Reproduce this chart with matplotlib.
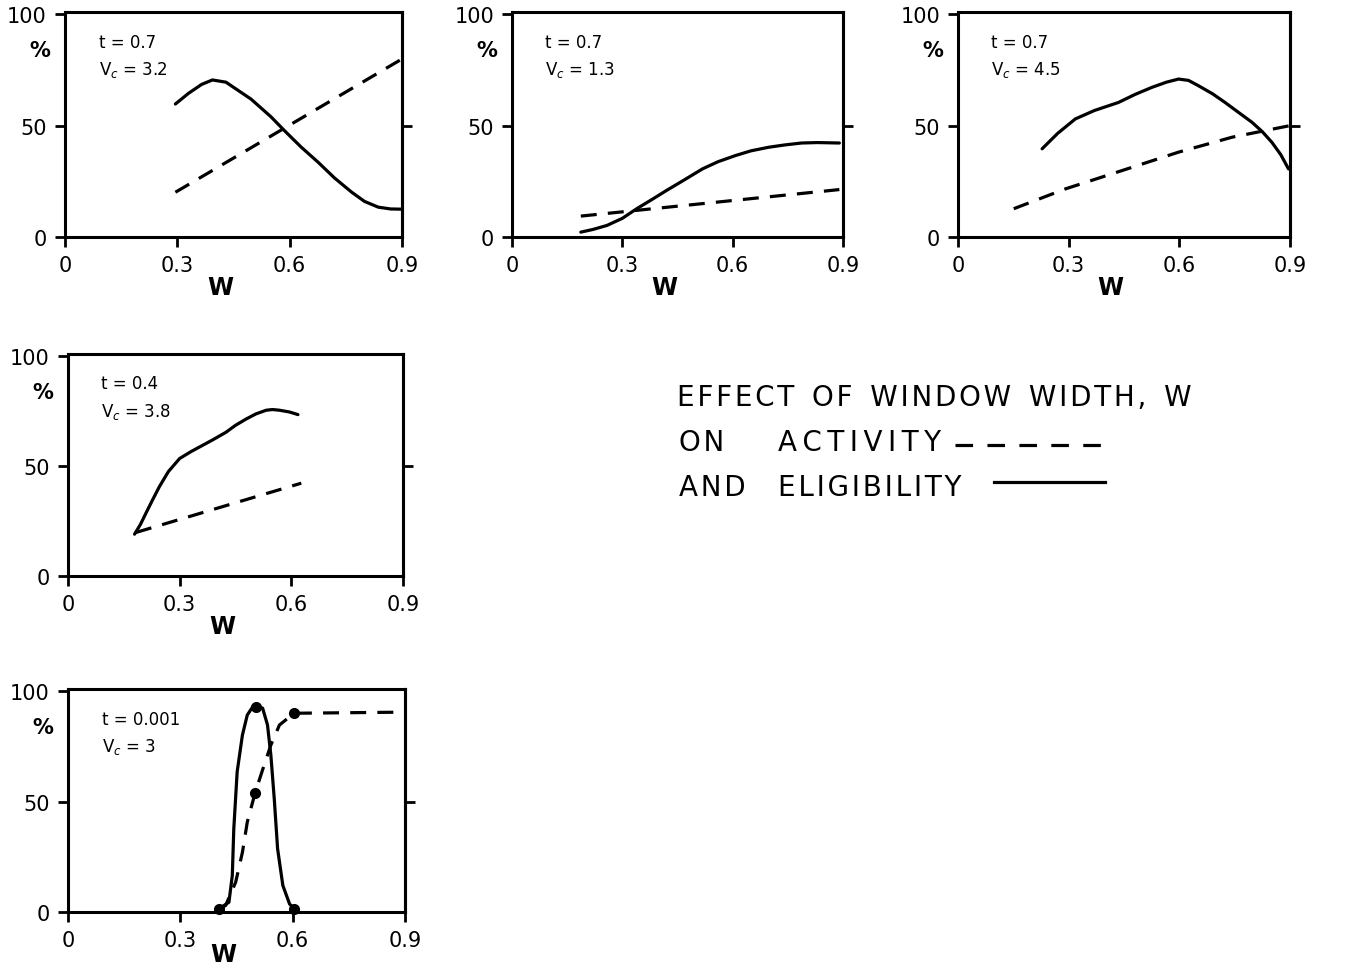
import matplotlib
matplotlib.use("Agg")
import matplotlib.pyplot as plt
from matplotlib.lines import Line2D

# panel 1: t = 0.7, Vc = 3.2
p1_w_elig = [0.295, 0.33, 0.365, 0.394, 0.43, 0.497, 0.55, 0.586, 0.63, 0.676, 0.72, 0.766, 0.80, 0.837, 0.87, 0.9]
p1_elig = [59.7, 64.5, 68.5, 70.5, 69.5, 61.9, 54.0, 47.8, 40.5, 33.6, 26.5, 20.1, 16.0, 13.4, 12.6, 12.5]
p1_w_act = [0.295, 0.9]
p1_act = [20.1, 79.9]

# panel 2: t = 0.7, Vc = 1.3
p2_w_elig = [0.187, 0.22, 0.258, 0.30, 0.339, 0.38, 0.42, 0.47, 0.518, 0.56, 0.608, 0.65, 0.698, 0.74, 0.787, 0.83, 0.89]
p2_elig = [2.2, 3.4, 5.2, 8.4, 12.7, 16.8, 20.9, 25.8, 30.6, 33.8, 36.6, 38.7, 40.3, 41.3, 42.2, 42.4, 42.2]
p2_w_act = [0.187, 0.89]
p2_act = [9.4, 21.3]

# panel 3: t = 0.7, Vc = 4.5
p3_w_elig = [0.228, 0.27, 0.318, 0.37, 0.435, 0.48, 0.526, 0.565, 0.598, 0.625, 0.652, 0.69, 0.724, 0.76, 0.797, 0.825, 0.851, 0.875, 0.896]
p3_elig = [39.6, 46.5, 53.0, 56.8, 60.4, 64.0, 67.2, 69.5, 70.9, 70.3, 67.9, 64.3, 60.4, 56.0, 51.5, 47.3, 42.5, 37.0, 30.6]
p3_w_act = [0.151, 0.291, 0.472, 0.598, 0.743, 0.9]
p3_act = [12.7, 21.6, 31.3, 38.1, 44.8, 50.0]

# panel 4: t = 0.4, Vc = 3.8
p4_w_elig = [0.179, 0.195, 0.21, 0.228, 0.246, 0.27, 0.30, 0.33, 0.354, 0.39, 0.425, 0.45, 0.479, 0.505, 0.533, 0.55, 0.568, 0.595, 0.618]
p4_elig = [19.0, 23.5, 28.7, 34.8, 40.7, 47.5, 53.4, 56.5, 58.7, 62.0, 65.4, 68.5, 71.4, 73.7, 75.4, 75.7, 75.4, 74.6, 73.4]
p4_w_act = [0.183, 0.627]
p4_act = [19.8, 42.2]

# panel 5: t = 0.001, Vc = 3
p5_w_elig = [0.403, 0.43, 0.439, 0.443, 0.452, 0.466, 0.479, 0.497, 0.52, 0.533, 0.542, 0.551, 0.56, 0.574, 0.592, 0.605]
p5_elig = [1.4, 4.4, 16.5, 37.7, 63.5, 80.1, 89.2, 93.8, 92.3, 84.7, 71.0, 51.4, 28.6, 12.0, 3.6, 1.4]
p5_w_act = [0.403, 0.421, 0.448, 0.466, 0.479, 0.5, 0.524, 0.542, 0.565, 0.604, 0.9]
p5_act = [1.4, 2.9, 13.5, 27.0, 40.7, 54.0, 66.5, 75.6, 84.7, 90.0, 90.5]
p5_w_dots_elig = [0.403, 0.502, 0.605]
p5_dots_elig = [1.4, 93.0, 1.4]
p5_w_dots_act = [0.5, 0.604]
p5_dots_act = [54.0, 90.0]

panel_t = ["0.7", "0.7", "0.7", "0.4", "0.001"]
panel_vc = ["3.2", "1.3", "4.5", "3.8", "3"]
x_ticks = [0, 0.3, 0.6, 0.9]
x_tick_labels = ["0", "0.3", "0.6", "0.9"]
y_ticks = [0, 50, 100]
y_tick_labels = ["0", "50", "100"]

LW = 2.3
DASH = (5, 3.5)


def spaced(s, gap="\u200a"):
    # the old lettering is set with wide letter spacing
    return gap.join(s)


def setup_axes(ax, t, vc, wlabel_y=-0.17):
    ax.set_xlim(0, 0.9)
    ax.set_ylim(0, 101)
    ax.set_xticks(x_ticks)
    ax.set_xticklabels(x_tick_labels)
    ax.set_yticks(y_ticks)
    ax.set_yticklabels(y_tick_labels)
    ax.tick_params(direction="out", length=7, width=2, labelsize=15, pad=6)
    for s in ax.spines.values():
        s.set_linewidth(2.2)
    right = ax.secondary_yaxis("right")
    right.set_yticks([50])
    right.set_yticklabels([])
    right.tick_params(direction="out", length=7, width=2)
    right.spines["right"].set_linewidth(2.2)
    ax.set_xlabel("W", fontsize=17, fontweight="bold")
    ax.xaxis.set_label_coords(0.46, wlabel_y)
    ax.text(-0.075, 0.83, "%", transform=ax.transAxes, fontsize=15,
            fontweight="bold", ha="center", va="center")
    ax.text(0.1, 0.867, "t = " + t, transform=ax.transAxes, fontsize=12,
            va="center")
    ax.text(0.1, 0.745, r"V$_c$ = " + vc, transform=ax.transAxes, fontsize=12,
            va="center")


fig = plt.figure(figsize=(13.56, 9.70), dpi=100)
ax1 = fig.add_axes([0.0479, 0.7546, 0.2485, 0.232])
ax2 = fig.add_axes([0.3776, 0.7546, 0.2441, 0.232])
ax3 = fig.add_axes([0.7065, 0.7546, 0.2448, 0.232])
ax4 = fig.add_axes([0.0501, 0.4052, 0.2470, 0.2289])
ax5 = fig.add_axes([0.0501, 0.0588, 0.2485, 0.2299])

panels = [
    (ax1, p1_w_elig, p1_elig, p1_w_act, p1_act),
    (ax2, p2_w_elig, p2_elig, p2_w_act, p2_act),
    (ax3, p3_w_elig, p3_elig, p3_w_act, p3_act),
    (ax4, p4_w_elig, p4_elig, p4_w_act, p4_act),
    (ax5, p5_w_elig, p5_elig, p5_w_act, p5_act),
]

for i, (ax, we, e, wa, a) in enumerate(panels):
    setup_axes(ax, panel_t[i], panel_vc[i], -0.135 if ax is ax5 else -0.17)
    ax.plot(we, e, color="black", lw=LW, solid_capstyle="round", clip_on=False)
    ax.plot(wa, a, color="black", lw=LW, dashes=DASH, clip_on=False)

ax5.plot(p5_w_dots_elig, p5_dots_elig, "o", color="black", ms=7, clip_on=False)
ax5.plot(p5_w_dots_act, p5_dots_act, "o", color="black", ms=7, clip_on=False)

# caption block
fs = 20
fig.text(0.4995, 0.5897, "  ".join(spaced(w) for w in ["EFFECT", "OF", "WINDOW", "WIDTH,", "W"]),
         fontsize=fs, va="center")
fig.text(0.5007, 0.5433, spaced("ON"), fontsize=fs, va="center")
fig.text(0.5737, 0.5433, spaced("ACTIVITY", "\u2009"), fontsize=fs, va="center")
fig.text(0.5007, 0.4969, spaced("AND"), fontsize=fs, va="center")
fig.text(0.5737, 0.4969, spaced("ELIGIBILITY"), fontsize=fs, va="center")
fig.add_artist(Line2D([0.704, 0.815], [0.540, 0.540], transform=fig.transFigure,
                      color="black", lw=LW, dashes=(5.5, 4.5)))
fig.add_artist(Line2D([0.733, 0.815], [0.502, 0.502], transform=fig.transFigure,
                      color="black", lw=LW))

fig.savefig("out.png", dpi=100)
